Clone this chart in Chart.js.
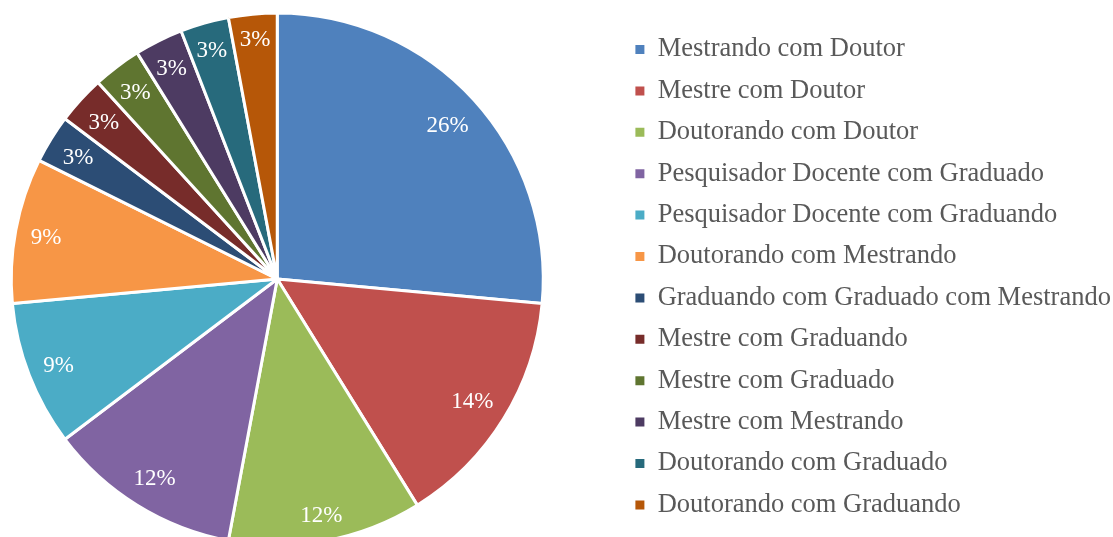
<!DOCTYPE html>
<html>
<head>
<meta charset="utf-8">
<script src="https://cdn.jsdelivr.net/npm/chart.js@4.4.1/dist/chart.umd.min.js"></script>
<style>
html, body { margin: 0; padding: 0; background: #ffffff; overflow: hidden; width: 1113px; height: 537px; position: relative; }
#wrap { position: absolute; left: -66px; top: 0; width: 1189px; height: 539px; }
</style>
</head>
<body>
<div id="wrap"><canvas id="c" width="1189" height="539"></canvas></div>
<script>
// ---- data ----
const categories = [
  'Mestrando com Doutor',
  'Mestre com Doutor',
  'Doutorando com Doutor',
  'Pesquisador Docente com Graduado',
  'Pesquisador Docente com Graduando',
  'Doutorando com Mestrando',
  'Graduando com Graduado com Mestrando',
  'Mestre com Graduando',
  'Mestre com Graduado',
  'Mestre com Mestrando',
  'Doutorando com Graduado',
  'Doutorando com Graduando'
];
const sliceValues = [9, 5, 4, 4, 3, 3, 1, 1, 1, 1, 1, 1];
const percentLabels = ['26%', '14%', '12%', '12%', '9%', '9%', '3%', '3%', '3%', '3%', '3%', '3%'];
const sliceColors = [
  '#4F81BD', '#C0504D', '#9BBB59', '#8064A2', '#4BACC6', '#F79646',
  '#2C4D75', '#772C2A', '#5F7530', '#4D3B62', '#276A7C', '#B65708'
];

// ---- layout helpers ----
const FONT_FAMILY = '"Liberation Serif", "Times New Roman", serif';
const canvasW = 1189;
const legendFontSize = 26.5;
const legendPad = 14.9;
const legendBox = 9;
const legendLeft = 696.5; // target, canvas coordinates

const mctx = document.createElement('canvas').getContext('2d');
mctx.font = 'normal ' + legendFontSize + 'px ' + FONT_FAMILY;
const maxTextW = Math.max(...categories.map(t => mctx.measureText(t).width));
const legendWidth = legendPad + legendBox + legendFontSize / 2 + maxTextW;
const padRight = Math.max(0, canvasW - legendLeft - legendWidth);

const pctLabelPlugin = {
  id: 'pctLabels',
  afterDatasetsDraw(chart) {
    const ctx = chart.ctx;
    const meta = chart.getDatasetMeta(0);
    ctx.save();
    ctx.font = '23px ' + FONT_FAMILY;
    ctx.fillStyle = '#ffffff';
    ctx.textAlign = 'center';
    ctx.textBaseline = 'middle';
    meta.data.forEach((arc, i) => {
      const p = arc.getProps(['x', 'y', 'startAngle', 'endAngle', 'outerRadius'], true);
      const a = (p.startAngle + p.endAngle) / 2;
      const ux = Math.cos(a), uy = Math.sin(a);
      const text = percentLabels[i];
      const w = ctx.measureText(text).width;
      const h = 18;
      const d = p.outerRadius - 14 - (Math.abs(ux) * w / 2 + Math.abs(uy) * h / 2);
      ctx.fillText(text, p.x + ux * d, p.y + uy * d + 2);
    });
    ctx.restore();
  }
};

new Chart(document.getElementById('c'), {
  type: 'pie',
  data: {
    labels: categories,
    datasets: [{
      data: sliceValues,
      backgroundColor: sliceColors,
      borderColor: '#ffffff',
      borderWidth: 3,
      radius: 266,
      hoverOffset: 0
    }]
  },
  options: {
    responsive: false,
    devicePixelRatio: 1,
    animation: false,
    events: [],
    layout: {
      padding: { left: 0, right: padRight, top: 21.35, bottom: 2.35 }
    },
    plugins: {
      tooltip: { enabled: false },
      legend: {
        position: 'right',
        align: 'start',
        labels: {
          font: { family: FONT_FAMILY, size: legendFontSize },
          color: '#595959',
          boxWidth: legendBox,
          boxHeight: legendBox,
          padding: legendPad,
          generateLabels(chart) {
            const items = Chart.overrides.doughnut.plugins.legend.labels.generateLabels(chart);
            items.forEach(it => { it.lineWidth = 0; it.strokeStyle = 'rgba(0,0,0,0)'; });
            return items;
          }
        }
      }
    }
  },
  plugins: [pctLabelPlugin]
});
</script>
</body>
</html>
